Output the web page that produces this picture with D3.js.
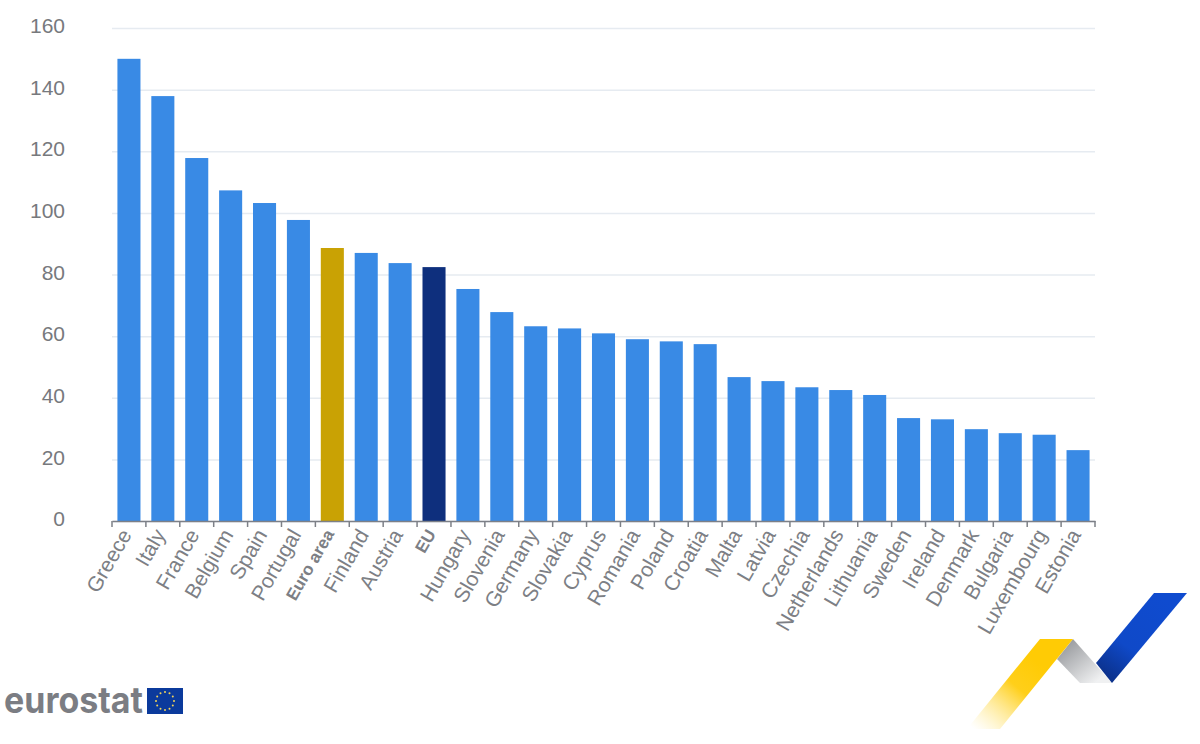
<!DOCTYPE html>
<html>
<head>
<meta charset="utf-8">
<script src="https://cdn.jsdelivr.net/npm/d3@7"></script>
<style>
  html, body { margin: 0; padding: 0; background: #fff; }
  svg { display: block; font-family: "Liberation Sans", Arial, sans-serif; }
</style>
</head>
<body>
<svg id="chart" width="1200" height="744"></svg>
<script>
// values
const countries = ["Greece","Italy","France","Belgium","Spain","Portugal","Euro area","Finland","Austria","EU",
  "Hungary","Slovenia","Germany","Slovakia","Cyprus","Romania","Poland","Croatia","Malta","Latvia","Czechia",
  "Netherlands","Lithuania","Sweden","Ireland","Denmark","Bulgaria","Luxembourg","Estonia"];
const debt = [150, 137.9, 117.8, 107.3, 103.2, 97.7, 88.6, 87, 83.7, 82.4,
  75.3, 67.8, 63.2, 62.5, 60.9, 59, 58.3, 57.4, 46.7, 45.4, 43.4,
  42.5, 40.9, 33.4, 33, 29.8, 28.5, 28, 23];
const yTicks = [0, 20, 40, 60, 80, 100, 120, 140, 160];
const aggregates = {"Euro area": "#c9a204", "EU": "#0e2f7d"};

const margin = {top: 28, right: 105, bottom: 223, left: 112},
      width = 1200 - margin.left - margin.right,
      height = 744 - margin.top - margin.bottom;

const svg = d3.select("#chart");
const g = svg.append("g").attr("transform", "translate(" + margin.left + "," + margin.top + ")");

const x = d3.scaleBand().domain(countries).range([0, width]).paddingInner(0.32).paddingOuter(0.16);
const y = d3.scaleLinear().domain([0, 160]).range([height, 0]);

// y axis + gridlines
const yAxis = g.append("g").call(d3.axisLeft(y).tickValues(yTicks).tickSize(-width).tickPadding(47));
yAxis.select(".domain").remove();
yAxis.selectAll("line").attr("stroke", "#e6ebf1").attr("stroke-width", 1.5);
yAxis.selectAll("text")
  .attr("dy", "0.22em")
  .style("font-size", "21px")
  .style("font-family", "'Liberation Sans', Arial, sans-serif")
  .attr("fill", "#77797d");

// bars
g.selectAll(".bar")
  .data(countries)
  .enter().append("rect")
    .attr("class", "bar")
    .attr("x", function(d) { return x(d); })
    .attr("width", x.bandwidth())
    .attr("y", function(d, i) { return y(debt[i]); })
    .attr("height", function(d, i) { return height - y(debt[i]); })
    .attr("fill", function(d) { return aggregates[d] || "#398ae5"; });

// x axis
const xAxis = g.append("g")
  .attr("transform", "translate(0," + height + ")")
  .call(d3.axisBottom(x).tickSize(0).tickPadding(10));
xAxis.select(".domain").attr("stroke", "#7d8087").attr("stroke-width", 1.5);
xAxis.selectAll("text")
  .attr("text-anchor", "end")
  .attr("transform", "rotate(-60) translate(-10,-7)")
  .attr("dy", "0.32em")
  .style("font-size", function(d) { return aggregates[d] ? "17px" : "21px"; })
  .style("font-weight", function(d) { return aggregates[d] ? "bold" : "normal"; })
  .style("font-family", "'Liberation Sans', Arial, sans-serif")
  .attr("fill", "#7d7f85");

// ticks sit on the band edges, not the centres
const edges = countries.map(function(d) { return x(d) - x.step() * x.paddingInner() / 2; }).concat([width]);
g.selectAll(".edgeTick")
  .data(edges)
  .enter().append("line")
    .attr("class", "edgeTick")
    .attr("x1", function(d) { return d; })
    .attr("x2", function(d) { return d; })
    .attr("y1", height)
    .attr("y2", height + 6)
    .attr("stroke", "#7d8087")
    .attr("stroke-width", 1.5);

// logo
svg.append("text")
  .attr("x", 4).attr("y", 713)
  .attr("textLength", 139)
  .attr("lengthAdjust", "spacingAndGlyphs")
  .style("font-family", "Inter, Roboto, sans-serif")
  .style("font-size", "36px")
  .style("font-weight", 700)
  .attr("fill", "#7b7d83")
  .text("eurostat");

svg.append("rect").attr("x", 147).attr("y", 688).attr("width", 36).attr("height", 26).attr("fill", "#0b3a9c");
d3.range(12).forEach(function(i) {
  const a = i * Math.PI / 6;
  svg.append("circle")
    .attr("cx", 165 + 9 * Math.cos(a))
    .attr("cy", 701 + 9 * Math.sin(a))
    .attr("r", 1)
    .attr("fill", "#f2d45a");
});

// ribbon in the corner
const defs = svg.append("defs");
function gradient(id, x1, y1, x2, y2, stops) {
  const lg = defs.append("linearGradient").attr("id", id)
    .attr("gradientUnits", "userSpaceOnUse")
    .attr("x1", x1).attr("y1", y1).attr("x2", x2).attr("y2", y2);
  stops.forEach(function(s) {
    lg.append("stop").attr("offset", s[0]).attr("stop-color", s[1]).attr("stop-opacity", s[2]);
  });
}
gradient("ribbonYellow", 1035, 660, 975, 730, [[0, "#ffcb05", 1], [0.35, "#ffcf1a", 1], [1, "#ffe680", 0]]);
gradient("ribbonGrey", 1060, 640, 1095, 683, [[0, "#8f9195", 1], [1, "#f0f1f2", 1]]);
gradient("ribbonBlue", 1165, 600, 1105, 680, [[0, "#0f4bcf", 1], [0.6, "#0f49c8", 1], [1, "#0b2f86", 1]]);

const ribbon = [
  {fill: "url(#ribbonGrey)", pts: [[1073,639],[1057,659],[1080,683],[1112,683]]},
  {fill: "url(#ribbonYellow)", pts: [[1040,639],[1073,639],[1000,729],[967,729]]},
  {fill: "url(#ribbonBlue)", pts: [[1154,593],[1187,593],[1112,683],[1096,663]]}
];
svg.selectAll(".ribbon")
  .data(ribbon)
  .enter().append("polygon")
    .attr("class", "ribbon")
    .attr("points", function(d) { return d.pts.join(" "); })
    .attr("fill", function(d) { return d.fill; });
</script>
</body>
</html>
